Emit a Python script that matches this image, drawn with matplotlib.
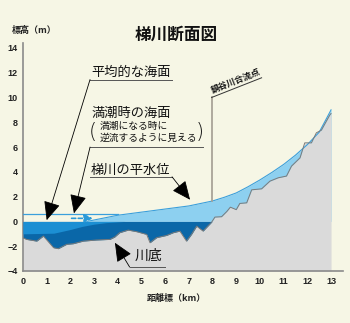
import numpy as np
import matplotlib
matplotlib.use("Agg")
import matplotlib.pyplot as plt

plt.rcParams["font.family"] = ["Noto Sans CJK JP", "DejaVu Sans"]

# -------------------------------
# Data
# -------------------------------

# river bed profile (km, m)
bed_km = [0, 0.15, 0.58, 0.86, 1.29, 1.49, 1.84, 2.12, 2.54, 3.1, 3.67, 3.87,
          4.08, 4.44, 4.8, 5.22, 5.36, 5.64, 6.06, 6.34, 6.62, 6.9, 7.11, 7.33,
          7.6, 7.96, 8.1, 8.38, 8.6, 8.75, 9.0, 9.15, 9.44, 9.65, 10.07, 10.42,
          10.77, 11.12, 11.33, 11.69, 11.89, 12.17, 12.38, 12.59, 12.95, 13.0]
bed_m = [-1.32, -1.45, -1.59, -1.18, -2.12, -2.2, -1.85, -1.8, -1.59, -1.5,
         -1.45, -1.26, -0.91, -0.7, -0.83, -1.05, -1.72, -1.31, -1.13, -0.91,
         -0.78, -1.59, -1.05, -0.38, -0.78, -0.06, 0.35, 0.38, 0.8, 1.15, 0.95,
         1.45, 1.5, 2.55, 2.63, 3.25, 3.52, 3.66, 4.46, 5.13, 6.34, 6.34, 7.15,
         7.36, 8.6, 8.7]

# normal water level of the river above 0 m
wl_km = [2.7, 4.0, 5.0, 6.0, 7.0, 8.0, 8.5, 9.0, 9.5, 10.0, 10.5, 11.0, 11.5,
         12.0, 12.5, 13.0]
wl_m = [0.0, 0.5, 0.75, 1.0, 1.25, 1.65, 1.95, 2.3, 2.8, 3.35, 3.95, 4.6, 5.35,
        6.2, 7.2, 9.0]

# water level below 0 m near the mouth
low_km = [0, 1.3, 2.0, 2.5, 3.0, 3.5, 4.3]
low_m = [-1.0, -0.95, -0.65, -0.4, -0.22, -0.1, 0.0]

mean_sea_level = 0.56
msl_end_km = 4.0

x_ticks = list(range(0, 14))
y_ticks = list(range(-4, 15, 2))

# -------------------------------
# Figure
# -------------------------------

bg = "#f6f6e5"
fig = plt.figure(figsize=(3.5, 3.23), dpi=100, facecolor=bg)
ax = fig.add_axes([0.0657, 0.161, 0.914, 0.706])
ax.set_facecolor(bg)

bed_x = np.array(bed_km)
bed_y = np.array(bed_m)

ax.fill_between(wl_km, 0, wl_m, color="#8dd0f0", lw=0, zorder=1)
ax.plot(wl_km, wl_m, color="#3a9fdc", lw=0.8, zorder=5)

ax.fill_between(bed_x, -4, bed_y, color="#dadada", lw=0, zorder=2)
ax.fill_between(bed_x, bed_y, 0, where=bed_y < 0, interpolate=True,
                color="#0a67a8", lw=0, zorder=3)
ax.fill_between(low_km, low_m, 0, color="#1c8fd3", lw=0, zorder=4)
ax.plot(bed_x, bed_y, color="#7a7a7a", lw=0.7, zorder=5)

ax.plot([0, msl_end_km], [mean_sea_level, mean_sea_level], color="#3a9fdc",
        lw=0.9, zorder=5)

# dashed arrow (flow reverses at high tide)
ax.annotate("", xy=(2.95, 0.25), xytext=(2.05, 0.25), zorder=6,
            arrowprops=dict(arrowstyle="-|>,head_length=0.5,head_width=0.25",
                            linestyle=(0, (2.5, 1.5)), color="#2a9ad8",
                            lw=1.2, shrinkA=0, shrinkB=0))

ax.set_xlim(0, 13.5)
ax.set_ylim(-4, 14.4)
ax.set_xticks(x_ticks)
ax.set_yticks(y_ticks)
ax.tick_params(length=0, pad=4, labelsize=6.5, colors="#222222")
for lab in ax.get_xticklabels() + ax.get_yticklabels():
    lab.set_fontfamily("Liberation Sans")
    lab.set_fontweight("bold")
for s in ["top", "right"]:
    ax.spines[s].set_visible(False)
for s in ["left", "bottom"]:
    ax.spines[s].set_color("#8a8a8a")
    ax.spines[s].set_linewidth(1.2)

# -------------------------------
# Texts and leaders
# -------------------------------

fig.text(0.503, 0.892, "梯川断面図", ha="center", va="center",
         fontsize=12, fontweight="bold", color="#111111")
fig.text(0.034, 0.907, "標高（m）", ha="left", va="center",
         fontsize=6.5, fontweight="bold", color="#222222")
fig.text(0.503, 0.077, "距離標（km）", ha="center", va="center",
         fontsize=6.5, fontweight="bold", color="#222222")

lc = "#555555"
arrow = dict(arrowstyle="-|>,head_length=0.9,head_width=0.4", color="black",
             lw=0.6, shrinkA=0, shrinkB=0, mutation_scale=13)


def label(x, y, s, size=9.5):
    ax.text(x, y, s, fontsize=size, ha="left", va="center", color="#111111",
            clip_on=False, zorder=7)


def underline(x0, x1, y):
    ax.plot([x0, x1], [y, y], color=lc, lw=0.7, clip_on=False, zorder=7)


def leader(start, tip):
    ax.annotate("", xy=tip, xytext=start, zorder=7, arrowprops=arrow)


label(2.87, 12.0, "平均的な海面")
underline(2.83, 6.29, 11.45)
leader((2.83, 11.45), (1.0, 0.1))

label(2.87, 8.7, "満潮時の海面")
label(3.25, 7.66, "満潮になる時に", 7)
label(3.25, 6.77, "逆流するように見える", 7)
ax.text(2.95, 7.2, "(", fontsize=15, ha="center", va="center",
        fontfamily="DejaVu Sans", fontweight="light", color="#111111", zorder=7)
ax.text(7.47, 7.2, ")", fontsize=15, ha="center", va="center",
        fontfamily="DejaVu Sans", fontweight="light", color="#111111", zorder=7)
underline(2.83, 7.6, 6.0)
leader((2.83, 6.0), (2.15, 0.65))

label(2.87, 4.15, "梯川の平水位")
underline(2.83, 6.29, 3.6)
leader((6.29, 3.6), (7.05, 1.75))

label(4.73, -2.8, "川底", 10)
underline(4.5, 6.0, -3.68)
leader((4.5, -3.68), (3.88, -1.72))

# tributary confluence marker
conf_km = 7.96
conf_wl = np.interp(conf_km, wl_km, wl_m)
ax.plot([conf_km, conf_km], [conf_wl, 10.0], color="#a39d92", lw=1.2, zorder=6)
ax.plot([conf_km, 10.07], [10.0, 11.59], color="#333333", lw=0.7, zorder=6,
        clip_on=False)
ax.text(conf_km + 0.05, 10.2, "鍋谷川合流点", rotation=21.5,
        rotation_mode="anchor", ha="left", va="bottom", fontsize=6.3,
        fontweight="bold", color="#111111", zorder=7)

fig.savefig("out.png", dpi=100, facecolor=bg)
